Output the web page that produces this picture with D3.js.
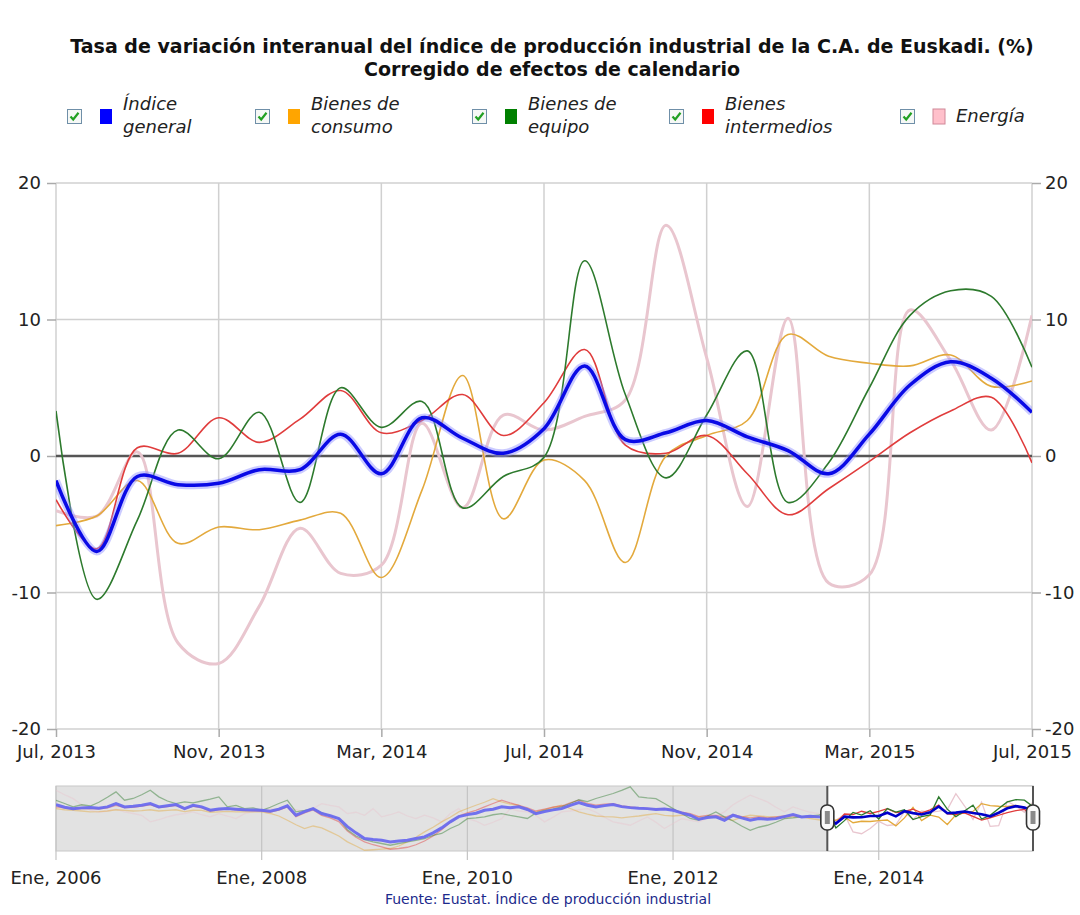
<!DOCTYPE html>
<html>
<head>
<meta charset="utf-8">
<script src="https://cdnjs.cloudflare.com/ajax/libs/d3/7.8.5/d3.min.js"></script>
<style>
  body { margin: 0; background: #fff; }
  svg { display: block; }
</style>
</head>
<body>
<div id="chart"></div>
<script>
// ---- data ----
const titleLines = [
  'Tasa de variación interanual del índice de producción industrial de la C.A. de Euskadi. (%)',
  'Corregido de efectos de calendario'
];
const sourceText = 'Fuente: Eustat. Índice de producción industrial';

const seriesNames = [['Índice', 'general'], ['Bienes de', 'consumo'], ['Bienes de', 'equipo'], ['Bienes', 'intermedios'], ['Energía']];
const legendColors = ['#0000ff', '#ffa500', '#008000', '#ff0000', '#ffc0cb'];

// main window: Jul 2013 .. Jul 2015, monthly
const mainTickLabels = ['Jul, 2013', 'Nov, 2013', 'Mar, 2014', 'Jul, 2014', 'Nov, 2014', 'Mar, 2015', 'Jul, 2015'];
const yTicks = [-20, -10, 0, 10, 20];

const recentGeneral = [-1.8, -7.0, -1.5, -2.1, -2.0, -1.0, -1.0, 1.6, -1.3, 2.8, 1.3, 0.2, 2.0, 6.6, 1.2, 1.7, 2.6, 1.4, 0.4, -1.3, 1.6, 5.2, 6.9, 5.7, 3.2];
const recentConsumo = [-5.1, -4.4, -1.8, -6.4, -5.2, -5.4, -4.7, -4.2, -8.9, -2.5, 5.9, -4.6, -0.3, -1.8, -7.8, 0.0, 1.5, 2.6, 8.9, 7.3, 6.8, 6.6, 7.4, 5.1, 5.5];
const recentEquipo = [3.3, -10.5, -4.7, 1.9, -0.2, 3.2, -3.4, 5.0, 2.1, 4.0, -3.8, -1.5, -0.1, 14.3, 4.5, -1.6, 3.0, 7.7, -3.4, -0.5, 5.0, 10.3, 12.1, 11.7, 6.5];
const recentIntermedios = [-3.2, -6.8, 0.6, 0.2, 2.8, 1.0, 2.7, 4.8, 1.7, 2.6, 4.5, 1.5, 3.9, 7.8, 0.8, 0.2, 1.5, -1.3, -4.3, -2.4, -0.4, 1.7, 3.3, 4.3, -0.5];
const recentEnergia = [-4.0, -4.4, 0.3, -13.7, -15.2, -11.0, -5.3, -8.6, -8.0, 2.4, -3.8, 3.0, 1.9, 2.9, 4.1, 16.9, 7.2, -3.7, 10.1, -9.3, -8.7, 10.7, 7.0, 1.9, 10.3];

// navigator history: Jan 2006 .. Jun 2013, monthly
const navTickLabels = ['Ene, 2006', 'Ene, 2008', 'Ene, 2010', 'Ene, 2012', 'Ene, 2014'];
const histGeneral = [8.0, 6.0, 4.9, 5.5, 5.7, 5.2, 6.3, 8.9, 6.3, 6.8,
  7.6, 8.9, 6.3, 7.2, 8.1, 4.9, 7.6, 6.3, 3.6, 4.6,
  4.9, 4.4, 4.0, 3.8, 3.6, 2.8, 4.5, 7.1, -0.4, 2.5,
  4.9, 1.0, -0.8, -3.1, -9.5, -14.5, -19.0, -19.8, -20.4, -21.7,
  -21.0, -20.4, -19.0, -17.7, -14.5, -10.5, -5.7, -1.5, 0.1, 1.2,
  3.6, 4.4, 6.3, 5.6, 6.3, 4.2, 0.9, 2.5, 3.9, 4.9,
  7.5, 9.7, 7.6, 6.3, 7.3, 8.1, 6.5, 5.7, 5.2, 4.9,
  4.2, 4.5, 3.6, 1.5, -0.4, -3.6, -2.2, -1.7, -4.4, -0.4,
  -2.5, -4.4, -3.1, -3.6, -3.1, -1.5, 0.1, -1.7, -1.2, -1.7];
const histConsumo = [4.9, 4.0, 3.5, 3.0, 2.3, 2.5, 3.0, 4.0, 3.5, 3.0,
  3.3, 4.0, 3.0, 3.5, 4.0, 2.5, 3.6, 3.5, 2.0, 2.3,
  2.7, 2.3, 2.5, 2.3, 2.3, 1.0, -1.0, -4.4, -8.0, -11.0,
  -9.0, -10.5, -13.7, -17.0, -21.7, -25.0, -28.4, -28.0, -27.5, -27.0,
  -25.0, -21.7, -18.0, -13.7, -10.0, -5.7, -2.0, 2.3, 5.0, 7.6,
  10.0, 12.9, 10.3, 8.5, 7.6, 3.6, 2.3, 4.0, 6.0, 7.6,
  5.0, 2.3, 0.5, -1.0, -1.5, -1.7, -2.5, -1.7, -1.0, 0.0,
  0.9, -0.5, -1.0, -0.4, -0.5, -2.0, -1.5, -2.0, -3.1, -4.4,
  -2.0, -0.4, -1.0, -1.5, -2.0, -2.5, -1.7, -1.7, -3.0, -4.0];
const histEquipo = [11.6, 9.0, 6.3, 8.0, 7.0, 10.0, 14.0, 18.3, 11.6, 13.0,
  16.0, 19.6, 14.3, 11.0, 8.9, 10.3, 9.5, 11.0, 12.5, 14.3,
  6.3, 7.5, 4.9, 5.5, 3.6, 6.0, 9.0, 11.6, 2.3, 3.5,
  4.9, 1.5, -1.0, -3.1, -12.0, -17.0, -20.0, -21.7, -23.0, -24.4,
  -23.0, -21.7, -20.5, -19.0, -16.5, -15.0, -11.0, -8.0, -3.1, -2.5,
  -1.7, 0.0, 0.9, -0.5, -1.7, -3.0, 1.5, 3.5, 4.5, 6.3,
  9.0, 12.0, 10.5, 13.0, 15.0, 17.0, 19.5, 22.3, 14.3, 13.5,
  12.9, 9.0, 4.9, 1.0, -3.0, -4.4, -1.0, 2.3, -1.7, -5.0,
  -9.0, -12.4, -10.0, -8.4, -6.0, -3.1, -2.5, -1.7, -1.0, -0.4];
const histIntermedios = [6.3, 5.5, 4.5, 5.0, 5.0, 4.8, 5.5, 7.5, 5.8, 6.0,
  7.0, 8.0, 5.8, 6.5, 7.5, 4.5, 6.8, 5.5, 3.0, 4.0,
  4.5, 4.0, 3.5, 3.3, 3.0, 2.2, 3.8, 6.2, -1.5, 1.5,
  3.8, -0.5, -2.5, -5.5, -13.0, -18.0, -21.7, -24.0, -25.7, -27.6,
  -27.0, -26.0, -24.0, -21.0, -17.0, -12.0, -6.0, -1.0, 1.5, 3.5,
  6.3, 9.0, 11.6, 9.5, 7.6, 5.5, 3.0, 4.5, 6.0, 7.0,
  9.5, 11.6, 9.0, 7.6, 8.5, 8.9, 7.0, 6.3, 5.5, 5.0,
  4.5, 4.8, 4.0, 2.0, 0.9, -1.5, -0.5, -0.5, -2.0, 0.0,
  -1.5, -2.5, -1.7, -2.5, -1.7, -1.0, -0.5, -1.7, -1.2, -1.7];
const histEnergia = [19.6, 16.0, 12.9, 8.0, 3.6, 2.0, 3.0, 4.5, 2.3, 1.0,
  -0.4, -5.7, -4.0, -1.7, 0.0, 1.0, 2.3, 0.0, -1.7, 0.9,
  -1.0, -3.1, 0.9, 2.5, 3.6, 5.0, 4.0, 6.3, 4.0, 2.3,
  5.0, 8.9, 7.5, 6.3, 0.9, 2.0, -0.4, 4.9, -1.7, 0.0,
  2.3, -1.0, -3.1, -0.4, -2.5, -5.7, 1.0, 4.9, -3.1, -5.0,
  -8.4, -6.0, -3.1, 4.9, 3.0, 2.3, -0.4, -5.7, -2.0, 2.3,
  3.0, 4.0, 4.9, 2.0, -2.0, -5.7, -7.0, -8.4, -5.0, -1.7,
  -6.0, -11.0, -7.0, -3.1, -4.5, -5.7, -3.0, -1.0, 2.3, 8.0,
  12.0, 15.6, 13.0, 10.3, 6.0, 2.3, 6.3, 4.0, 2.0, 0.9];

// ---- build ----
const FONT = "'DejaVu Sans', Verdana, sans-serif";
const W = 1080, H = 915;
const plot = { left: 56, right: 1032, top: 183, bottom: 729 };
const nav = { left: 56, right: 1033, top: 786, bottom: 851 };

const series = [
  { recent: recentGeneral, hist: histGeneral, color: '#0a0ae6', width: 3.5 },
  { recent: recentConsumo, hist: histConsumo, color: '#e3a93c', width: 1.6 },
  { recent: recentEquipo, hist: histEquipo, color: '#2d7a2d', width: 1.6 },
  { recent: recentIntermedios, hist: histIntermedios, color: '#e03c3c', width: 1.6 },
  { recent: recentEnergia, hist: histEnergia, color: '#e9c6cf', width: 3 }
];
const drawOrder = [4, 1, 3, 2, 0];

const svg = d3.select('#chart').append('svg').attr('width', W).attr('height', H);

// Title
titleLines.forEach((t, i) => {
  svg.append('text')
    .attr('x', 552).attr('y', 53 + i * 23)
    .attr('text-anchor', 'middle')
    .attr('font-family', FONT).attr('font-weight', 'bold').attr('font-size', '19px')
    .attr('fill', '#111')
    .text(t);
});

// Legend
const legendX = [67, 255, 472, 669, 900];
seriesNames.forEach((lines, i) => {
  const g = svg.append('g').attr('transform', `translate(${legendX[i]},109)`);
  g.append('rect').attr('x', 0.5).attr('y', 0.5).attr('width', 14).attr('height', 14)
    .attr('fill', '#f6f8f6').attr('stroke', '#6f8fa8');
  g.append('path').attr('d', 'M3.5,7.5 L6.2,10.5 L11.5,3.8')
    .attr('fill', 'none').attr('stroke', '#22a022').attr('stroke-width', 2.2);
  g.append('rect').attr('x', 33).attr('y', 0).attr('width', 12).attr('height', 15)
    .attr('fill', legendColors[i]).attr('stroke', i === 4 ? '#d08898' : 'none');
  const tx = g.append('text').attr('x', 56)
    .attr('font-family', FONT).attr('font-style', 'italic').attr('font-size', '18px')
    .attr('fill', '#222');
  if (lines.length === 1) {
    tx.attr('y', 13).text(lines[0]);
  } else {
    tx.attr('y', 1).text(lines[0]);
    g.append('text').attr('x', 56).attr('y', 24)
      .attr('font-family', FONT).attr('font-style', 'italic').attr('font-size', '18px')
      .attr('fill', '#222').text(lines[1]);
  }
});

// Main scales
const x = d3.scaleLinear().domain([0, recentGeneral.length - 1]).range([plot.left, plot.right]);
const y = d3.scaleLinear().domain([-20, 20]).range([plot.bottom, plot.top]);
const xTickIdx = mainTickLabels.map((d, i) => i * 4);

// Grid
const grid = svg.append('g');
grid.selectAll('.hg').data(yTicks).enter().append('line')
  .attr('x1', plot.left).attr('x2', plot.right)
  .attr('y1', d => y(d)).attr('y2', d => y(d))
  .attr('stroke', '#d0d0d0').attr('stroke-width', 1.5);
grid.selectAll('.vg').data(xTickIdx).enter().append('line')
  .attr('x1', d => x(d)).attr('x2', d => x(d))
  .attr('y1', plot.top).attr('y2', plot.bottom)
  .attr('stroke', '#d0d0d0').attr('stroke-width', 1.5);

// Axes
const styleAxis = (a) => {
  a.select('.domain').remove();
  a.selectAll('line').attr('stroke', '#aaa').attr('stroke-width', 1.5);
  a.selectAll('text').attr('fill', '#222').attr('font-family', FONT).attr('font-size', '18px');
};
svg.append('g').attr('transform', `translate(${plot.left},0)`)
  .call(d3.axisLeft(y).tickValues(yTicks).tickFormat(d => String(d)).tickSize(9).tickPadding(6)).call(styleAxis);
svg.append('g').attr('transform', `translate(${plot.right},0)`)
  .call(d3.axisRight(y).tickValues(yTicks).tickFormat(d => String(d)).tickSize(9).tickPadding(4)).call(styleAxis);
svg.append('g').attr('transform', `translate(0,${plot.bottom})`)
  .call(d3.axisBottom(x).tickValues(xTickIdx).tickFormat((d, i) => mainTickLabels[i]).tickSize(8).tickPadding(8))
  .call(styleAxis);

// zero line
svg.append('line')
  .attr('x1', plot.left).attr('x2', plot.right)
  .attr('y1', y(0)).attr('y2', y(0))
  .attr('stroke', '#555').attr('stroke-width', 2.5);

// Lines
svg.append('clipPath').attr('id', 'plotClip').append('rect')
  .attr('x', plot.left).attr('y', plot.top).attr('width', plot.right - plot.left).attr('height', plot.bottom - plot.top);
const lineGen = d3.line().x((d, i) => x(i)).y(d => y(d)).curve(d3.curveCatmullRom.alpha(0.5));
const lines = svg.append('g').attr('clip-path', 'url(#plotClip)');
drawOrder.forEach(k => {
  const s = series[k];
  if (k === 0) {
    lines.append('path').datum(s.recent).attr('d', lineGen)
      .attr('fill', 'none').attr('stroke', '#8c8cff').attr('stroke-opacity', 0.45).attr('stroke-width', 8)
      .attr('stroke-linejoin', 'round');
  }
  lines.append('path').datum(s.recent).attr('d', lineGen)
    .attr('fill', 'none').attr('stroke', s.color).attr('stroke-width', s.width)
    .attr('stroke-linejoin', 'round');
});

// Navigator
const navAll = series.map(s => s.hist.concat(s.recent));
const nMonths = navAll[0].length;
const xn = d3.scaleLinear().domain([0, nMonths - 1]).range([nav.left, nav.right]);
const yn = d3.scaleLinear().domain([-29, 23]).range([nav.bottom, nav.top]);
const selStart = xn(histGeneral.length);

svg.append('rect').attr('x', nav.left).attr('y', nav.top)
  .attr('width', nav.right - nav.left).attr('height', nav.bottom - nav.top)
  .attr('fill', '#e2e2e2').attr('stroke', '#c8c8c8');
svg.append('rect').attr('x', selStart).attr('y', nav.top)
  .attr('width', nav.right - selStart).attr('height', nav.bottom - nav.top)
  .attr('fill', '#fff').attr('stroke', '#c8c8c8');

const navTickIdx = navTickLabels.map((d, i) => i * 24);
svg.append('g').selectAll('line').data(navTickIdx).enter().append('line')
  .attr('x1', d => xn(d)).attr('x2', d => xn(d))
  .attr('y1', nav.top).attr('y2', nav.bottom + 9)
  .attr('stroke', '#c4c4c4').attr('stroke-width', 1.2);
svg.append('g').selectAll('text').data(navTickLabels).enter().append('text')
  .attr('x', (d, i) => xn(navTickIdx[i])).attr('y', 884)
  .attr('text-anchor', 'middle')
  .attr('font-family', FONT).attr('font-size', '18px').attr('fill', '#222')
  .text(d => d);

svg.append('clipPath').attr('id', 'navOff').append('rect')
  .attr('x', nav.left).attr('y', nav.top - 5).attr('width', selStart - nav.left).attr('height', nav.bottom - nav.top + 10);
svg.append('clipPath').attr('id', 'navOn').append('rect')
  .attr('x', selStart).attr('y', nav.top - 5).attr('width', nav.right - selStart).attr('height', nav.bottom - nav.top + 10);

const navLine = d3.line().x((d, i) => xn(i)).y(d => yn(d));
const offG = svg.append('g').attr('clip-path', 'url(#navOff)');
const onG = svg.append('g').attr('clip-path', 'url(#navOn)');
drawOrder.forEach(k => {
  const s = series[k];
  offG.append('path').datum(navAll[k]).attr('d', navLine)
    .attr('fill', 'none')
    .attr('stroke', k === 0 ? '#6a6aee' : s.color)
    .attr('stroke-opacity', k === 0 ? 0.95 : 0.45)
    .attr('stroke-width', k === 0 ? 3 : 1.3);
  onG.append('path').datum(navAll[k]).attr('d', navLine)
    .attr('fill', 'none')
    .attr('stroke', k === 0 ? '#0000c8' : s.color)
    .attr('stroke-width', k === 0 ? 2.6 : 1.3);
});

// selection borders + grips
[selStart, nav.right].forEach(px => {
  svg.append('line').attr('x1', px).attr('x2', px).attr('y1', nav.top).attr('y2', nav.bottom)
    .attr('stroke', '#555').attr('stroke-width', 2);
  svg.append('rect').attr('x', px - 6.5).attr('y', 805).attr('width', 13).attr('height', 25).attr('rx', 6)
    .attr('fill', '#fafafa').attr('stroke', '#333').attr('stroke-width', 1.6);
  svg.append('rect').attr('x', px - 2.5).attr('y', 811).attr('width', 5).attr('height', 13)
    .attr('fill', '#8a8a8a');
});

// Source
svg.append('text')
  .attr('x', 548).attr('y', 904)
  .attr('text-anchor', 'middle')
  .attr('font-family', FONT).attr('font-size', '14px').attr('fill', '#1c2a8c')
  .text(sourceText);
</script>
</body>
</html>
